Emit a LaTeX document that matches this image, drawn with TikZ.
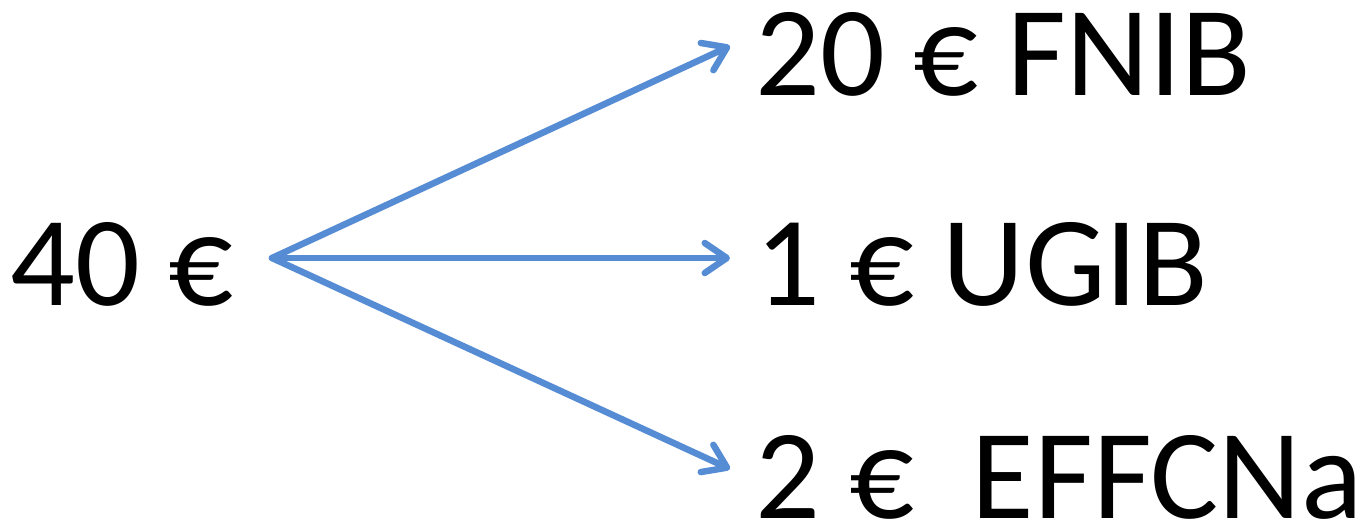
\documentclass[tikz,border=0pt]{standalone}
\usepackage{fontspec}
\setmainfont{Carlito}
\usepackage{tikz}
\usetikzlibrary{arrows.meta}

\definecolor{arrowblue}{RGB}{86,140,212}

\begin{document}
\begin{tikzpicture}[x=1pt, y=-1pt,
		amount/.style={inner sep=0pt, anchor=base west, font=\fontsize{128}{150}\selectfont},
		split/.style={arrowblue, line width=6.5pt, line cap=round,
			-{Straight Barb[length=22pt, width=30pt, line cap=round, round]}}]
			
			% Canvas
			\useasboundingbox (0,0) rectangle (1362,528);
			
			% Source amount and the three shares
			\node[amount] (total) at (10,305) {40 €};
			\node[amount] (fnib) at (755,95) {20 € FNIB};
			\node[amount] (ugib) at (755,305) {1 € UGIB};
			\node[amount] (effc) at (755,518) {2 €\ \ EFFCNa};
			
			% Where the arrows split and end
			\coordinate (fork) at (272,258);
			\coordinate (fnibin) at (730,46);
			\coordinate (ugibin) at (730,258);
			\coordinate (effcin) at (730,469);
			
			% Arrows
			\draw[split] (fork) -- (fnibin);
			\draw[split] (fork) -- (ugibin);
			\draw[split] (fork) -- (effcin);
			
		\end{tikzpicture}
\end{document}
